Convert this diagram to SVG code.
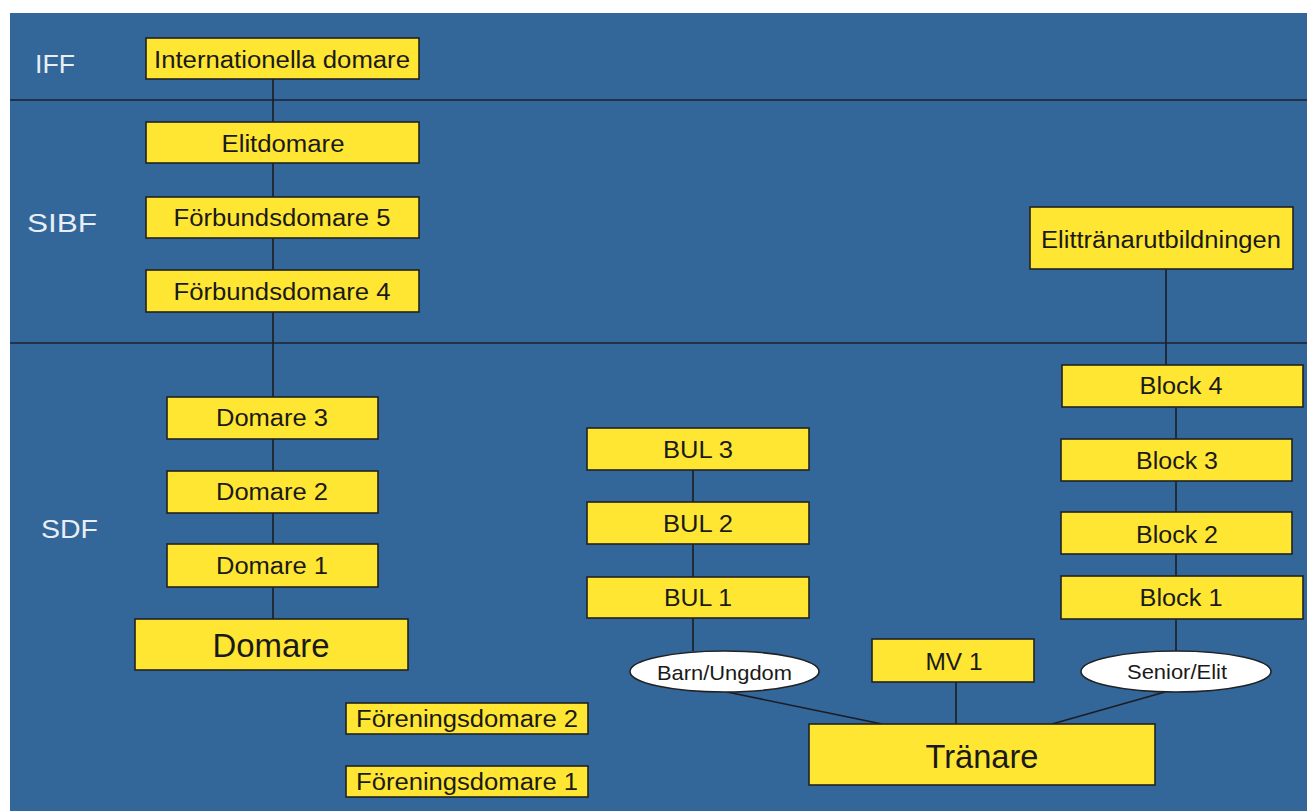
<svg xmlns="http://www.w3.org/2000/svg" width="1307" height="811" viewBox="0 0 1307 811">
<style>
.bg{fill:#336699}
.sep{stroke:#1c2233;stroke-width:1.6}
.box{fill:#FFE632;stroke:#222222;stroke-width:1.6}
.ell{fill:#FFFFFF;stroke:#222222;stroke-width:1.6}
.t{font-family:"Liberation Sans",Arial,sans-serif;font-size:23px;fill:#1a1a1a;text-anchor:middle}
.big{font-size:34px}
.sm{font-size:21px}
.lvl{font-family:"Liberation Sans",Arial,sans-serif;font-size:25px;fill:#E8EEF6}
.con{stroke:#1c1c22;stroke-width:1.6;fill:none}
</style>
<rect x="0" y="0" width="1307" height="811" fill="#FFFFFF"/>
<rect class="bg" x="10" y="13" width="1297" height="798"/>
<g id="separators">
<line class="sep" x1="10" y1="100" x2="1307" y2="100"/>
<line class="sep" x1="10" y1="343" x2="1307" y2="343"/>
</g>
<g id="levels">
<text class="lvl" x="35" y="73" textLength="40" lengthAdjust="spacingAndGlyphs">IFF</text>
<text class="lvl" x="27" y="232" textLength="70" lengthAdjust="spacingAndGlyphs">SIBF</text>
<text class="lvl" x="41" y="538" textLength="57" lengthAdjust="spacingAndGlyphs">SDF</text>
</g>
<g id="connectors">
<line class="con" x1="273" y1="79" x2="273" y2="122"/>
<line class="con" x1="273" y1="163" x2="273" y2="197"/>
<line class="con" x1="273" y1="238" x2="273" y2="270"/>
<line class="con" x1="273" y1="312" x2="273" y2="397"/>
<line class="con" x1="273" y1="439" x2="273" y2="471"/>
<line class="con" x1="273" y1="513" x2="273" y2="544"/>
<line class="con" x1="273" y1="587" x2="273" y2="619"/>
<line class="con" x1="693" y1="470" x2="693" y2="502"/>
<line class="con" x1="693" y1="544" x2="693" y2="577"/>
<line class="con" x1="693" y1="618" x2="693" y2="651"/>
<line class="con" x1="1166" y1="269" x2="1166" y2="365"/>
<line class="con" x1="1176" y1="407" x2="1176" y2="439"/>
<line class="con" x1="1176" y1="481" x2="1176" y2="512"/>
<line class="con" x1="1176" y1="554" x2="1176" y2="576"/>
<line class="con" x1="1176" y1="619" x2="1176" y2="651"/>
<line class="con" x1="956" y1="682" x2="956" y2="724"/>
<line class="con" x1="727" y1="692" x2="882" y2="724"/>
<line class="con" x1="1165" y1="692" x2="1052" y2="724"/>
</g>
<g id="n-intl"><rect class="box" x="146" y="38" width="273" height="41"/><text class="t" x="282" y="68" textLength="256" lengthAdjust="spacingAndGlyphs">Internationella domare</text></g>
<g id="n-elit"><rect class="box" x="146" y="122" width="273" height="41"/><text class="t" x="283" y="152" textLength="123" lengthAdjust="spacingAndGlyphs">Elitdomare</text></g>
<g id="n-fd5"><rect class="box" x="146" y="197" width="273" height="41"/><text class="t" x="282" y="226" textLength="217" lengthAdjust="spacingAndGlyphs">Förbundsdomare 5</text></g>
<g id="n-fd4"><rect class="box" x="146" y="270" width="273" height="42"/><text class="t" x="282" y="300" textLength="217" lengthAdjust="spacingAndGlyphs">Förbundsdomare 4</text></g>
<g id="n-d3"><rect class="box" x="167" y="397" width="211" height="42"/><text class="t" x="272" y="426" textLength="112" lengthAdjust="spacingAndGlyphs">Domare 3</text></g>
<g id="n-d2"><rect class="box" x="167" y="471" width="211" height="42"/><text class="t" x="272" y="500" textLength="112" lengthAdjust="spacingAndGlyphs">Domare 2</text></g>
<g id="n-d1"><rect class="box" x="167" y="544" width="211" height="43"/><text class="t" x="272" y="574" textLength="112" lengthAdjust="spacingAndGlyphs">Domare 1</text></g>
<g id="n-domare"><rect class="box" x="135" y="619" width="273" height="51"/><text class="t big" x="271" y="657" textLength="117" lengthAdjust="spacingAndGlyphs">Domare</text></g>
<g id="n-fo2"><rect class="box" x="346" y="703" width="242" height="31"/><text class="t" x="467" y="727" textLength="222" lengthAdjust="spacingAndGlyphs">Föreningsdomare 2</text></g>
<g id="n-fo1"><rect class="box" x="346" y="766" width="242" height="31"/><text class="t" x="467" y="790" textLength="222" lengthAdjust="spacingAndGlyphs">Föreningsdomare 1</text></g>
<g id="n-bul3"><rect class="box" x="587" y="428" width="222" height="42"/><text class="t" x="698" y="458" textLength="70" lengthAdjust="spacingAndGlyphs">BUL 3</text></g>
<g id="n-bul2"><rect class="box" x="587" y="502" width="222" height="42"/><text class="t" x="698" y="532" textLength="70" lengthAdjust="spacingAndGlyphs">BUL 2</text></g>
<g id="n-bul1"><rect class="box" x="587" y="577" width="222" height="41"/><text class="t" x="698" y="606" textLength="68" lengthAdjust="spacingAndGlyphs">BUL 1</text></g>
<g id="n-elittr"><rect class="box" x="1030" y="207" width="263" height="62"/><text class="t" x="1161" y="248" textLength="240" lengthAdjust="spacingAndGlyphs">Elittränarutbildningen</text></g>
<g id="n-b4"><rect class="box" x="1062" y="365" width="241" height="42"/><text class="t" x="1181" y="394" textLength="83" lengthAdjust="spacingAndGlyphs">Block 4</text></g>
<g id="n-b3"><rect class="box" x="1061" y="439" width="231" height="42"/><text class="t" x="1177" y="469" textLength="82" lengthAdjust="spacingAndGlyphs">Block 3</text></g>
<g id="n-b2"><rect class="box" x="1061" y="512" width="231" height="42"/><text class="t" x="1177" y="543" textLength="82" lengthAdjust="spacingAndGlyphs">Block 2</text></g>
<g id="n-b1"><rect class="box" x="1061" y="576" width="242" height="43"/><text class="t" x="1181" y="606" textLength="83" lengthAdjust="spacingAndGlyphs">Block 1</text></g>
<g id="n-barn"><ellipse class="ell" cx="724.5" cy="671.5" rx="94.5" ry="20.5"/><text class="t sm" x="724.5" y="680" textLength="135" lengthAdjust="spacingAndGlyphs">Barn/Ungdom</text></g>
<g id="n-senior"><ellipse class="ell" cx="1176" cy="671.5" rx="95" ry="20.5"/><text class="t sm" x="1177" y="679" textLength="100" lengthAdjust="spacingAndGlyphs">Senior/Elit</text></g>
<g id="n-mv1"><rect class="box" x="872" y="639" width="162" height="43"/><text class="t" x="954" y="670" textLength="57" lengthAdjust="spacingAndGlyphs">MV 1</text></g>
<g id="n-tranare"><rect class="box" x="809" y="724" width="346" height="61"/><text class="t big" x="982" y="768" textLength="113" lengthAdjust="spacingAndGlyphs">Tränare</text></g>
</svg>
